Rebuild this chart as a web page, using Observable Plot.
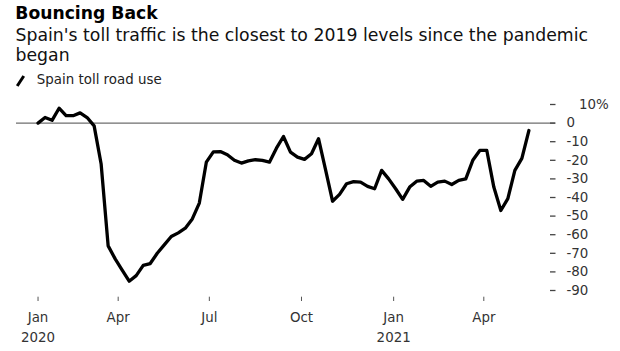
<!DOCTYPE html>
<html><head><meta charset="utf-8">
<script src="https://cdn.jsdelivr.net/npm/d3@7"></script>
<script src="https://cdn.jsdelivr.net/npm/@observablehq/plot@0.6"></script>
<style>
html,body{margin:0;padding:0;background:#fff;}
body{width:620px;height:351px;overflow:hidden;font-family:"DejaVu Sans",sans-serif;position:relative;}
#head{position:relative;height:90px;}
#title{position:absolute;left:15.3px;top:3.35px;font-size:17.2px;line-height:20px;font-weight:bold;color:#000;white-space:nowrap;}
#subtitle{position:absolute;left:15.5px;top:24.67px;width:600px;font-size:17.3px;line-height:20.7px;color:#111;}
#legend{position:absolute;left:36.8px;top:72.4px;font-size:13.4px;line-height:16px;color:#222;white-space:nowrap;}
#swatch{position:absolute;left:18.5px;top:75px;width:3px;height:12px;background:#000;transform:rotate(33deg);}
#chart{position:absolute;top:90px;left:0;}
</style></head>
<body>
<div id="head">
  <div id="title">Bouncing Back</div>
  <div id="subtitle">Spain's toll traffic is the closest to 2019 levels since the pandemic began</div>
  <div id="swatch"></div>
  <div id="legend">Spain toll road use</div>
</div>
<div id="chart"></div>
<script>
// Weekly observations, first week ending 2020-01-12
const firstWeek = "2020-01-12";
const values = [0,3,1.5,8,4,4,5.5,3,-1.5,-22,
  -66,-73,-79,-85,-82,-76.5,-75.5,-70,-65.5,-61,
  -59,-56.5,-51.5,-43,-21,-15.5,-15.3,-17,-20,-21.5,
  -20.3,-19.7,-20,-21,-13.5,-7.2,-15.6,-18.3,-19.5,-16.5,
  -8.4,-25,-42,-38.3,-32.6,-31.5,-31.7,-34,-35.3,-25.4,
  -30,-35.3,-41,-34.4,-31.2,-30.8,-34,-31.7,-31.2,-33,
  -30.8,-30,-20,-14.7,-14.7,-34.4,-47,-40.6,-25.4,-19,
  -4];
const xTickDates = ["2020-01-12","2020-04-01","2020-07-01","2020-10-01","2021-01-01","2021-04-01"];
const xTickLabels = ["Jan\n2020","Apr","Jul","Oct","Jan\n2021","Apr"];
const yTicks = [10,0,-10,-20,-30,-40,-50,-60,-70,-80,-90];

const start = new Date(firstWeek + "T00:00:00Z");
const data = values.map((v, i) => ({date: d3.utcDay.offset(start, 7 * i), value: v}));
const tickDates = xTickDates.map(s => new Date(s + "T00:00:00Z"));
const labelMap = new Map(tickDates.map((d, i) => [+d, xTickLabels[i]]));

const chart = Plot.plot({
  width: 620, height: 261,
  marginTop: 14, marginBottom: 54.3, marginLeft: 16, marginRight: 71,
  style: {fontFamily: "DejaVu Sans", fontSize: "13.4px", color: "#333", background: "transparent"},
  x: {type: "utc", domain: [new Date(Date.UTC(2019, 11, 21, 12)), new Date(Date.UTC(2021, 5, 5, 14))]},
  y: {domain: [-93.6, 10]},
  marks: [
    Plot.ruleY([0], {stroke: "#6e6e6e", strokeWidth: 1.3, insetRight: -6}),
    Plot.axisX({ticks: tickDates, tickFormat: d => labelMap.get(+d), tickSize: 4.3, tickPadding: 7, lineHeight: 1.46, stroke: "#555", fill: "#333", label: null}),
    Plot.axisY({anchor: "right", ticks: yTicks.filter(d => d !== 10), tickSize: 5.5, tickPadding: 11.5, textAnchor: "start", tickFormat: d => String(d), stroke: "#444", strokeWidth: 1.3, fill: "#333", label: null}),
    Plot.axisY({anchor: "right", ticks: [10], tickSize: 5.5, tickPadding: 24, textAnchor: "start", tickFormat: d => d + "%", stroke: "#444", strokeWidth: 1.3, fill: "#333", label: null}),
    Plot.line(data, {x: "date", y: "value", stroke: "#000", strokeWidth: 3.3, strokeLinejoin: "round", strokeLinecap: "round"})
  ]
});
document.getElementById("chart").appendChild(chart);
</script>
</body></html>
